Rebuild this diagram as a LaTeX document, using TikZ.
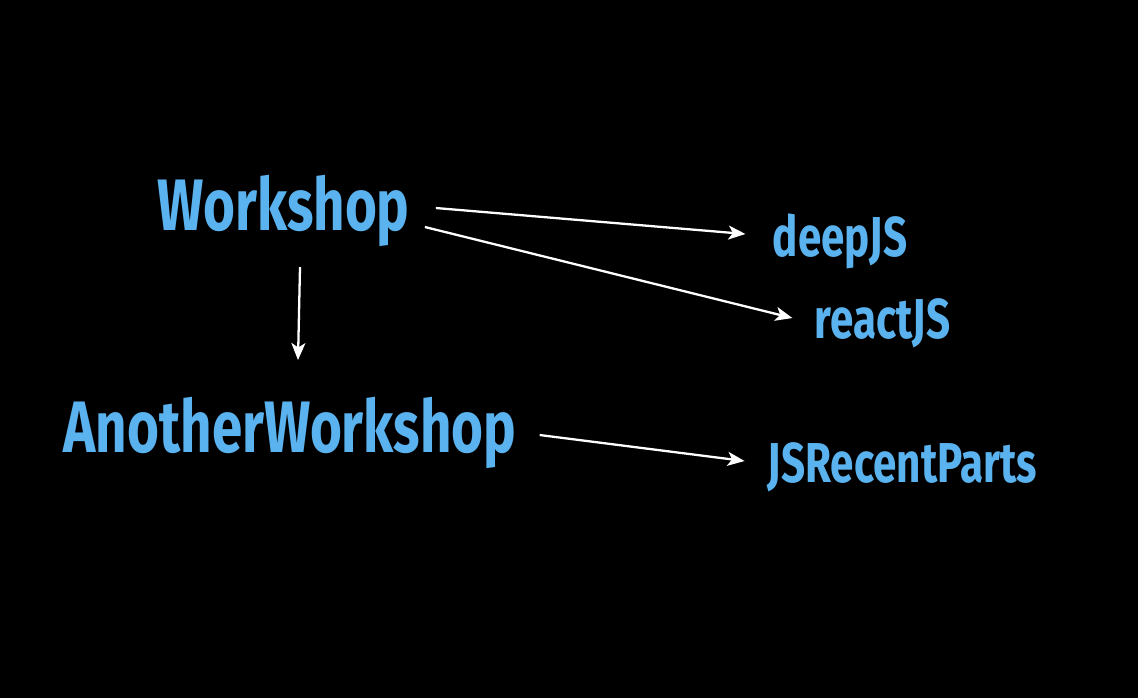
\documentclass[tikz,border=0pt]{standalone}
\usepackage{fontspec}
\usetikzlibrary{arrows.meta}
\newfontfamily\slidefont[FakeStretch=0.75]{Fira Sans}
\definecolor{wsblue}{HTML}{5AB2EE}

\tikzset{
  big/.style={text=wsblue,inner sep=0pt,anchor=base,font=\slidefont\bfseries\fontsize{41.5}{46}\selectfont},
  small/.style={text=wsblue,inner sep=0pt,anchor=base,font=\slidefont\bfseries\fontsize{32}{36}\selectfont},
  arr/.style={draw=white,line width=1.3pt,-{Stealth[length=0.34cm,width=0.28cm,inset=0.09cm]}}
}

\begin{document}
\begin{tikzpicture}[x=0.02cm,y=-0.02cm]

      \fill[black] (0,0) rectangle (1138,698);
      \useasboundingbox (0,0) rectangle (1138,698);

      \node[big]   (w) at (283.5,230) {Workshop};
      \node[big]   (a) at (290,452)   {AnotherWorkshop};
      \node[small] (d) at (840,256)   {deepJS};
      \node[small] (r) at (882.5,338) {reactJS};
      \node[small] (j) at (902.5,482) {JSRecentParts};

      \draw[arr] ([shift={(26,-22)}]w.base east) -- ([shift={(-27,-22)}]d.base west);
      \draw[arr] ([shift={(15,-3)}]w.base east)  -- ([shift={(-22,-20)}]r.base west);
      \draw[arr] ([shift={(16.5,37)}]w.base)     -- ([shift={(8,-92)}]a.base);
      \draw[arr] ([shift={(23,-17)}]a.base east) -- ([shift={(-23,-21)}]j.base west);

    \end{tikzpicture}
\end{document}
